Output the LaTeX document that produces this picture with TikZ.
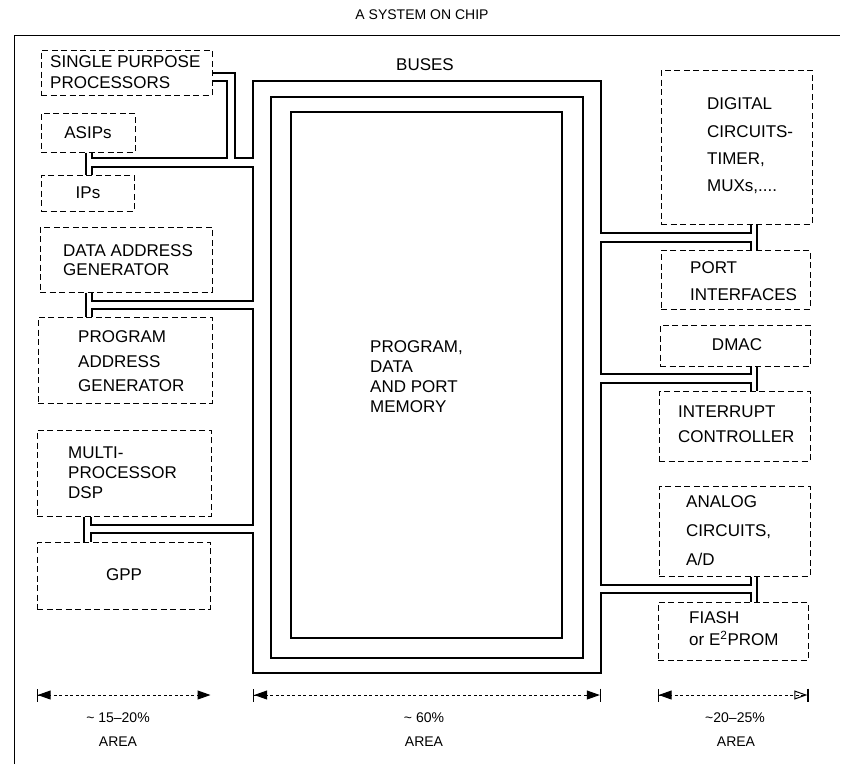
\documentclass[tikz,border=0pt]{standalone}
\usepackage{fontspec}
\setmainfont{Liberation Sans}
\usetikzlibrary{arrows.meta}
\begin{document}
\begin{tikzpicture}[x=1pt,y=-1pt,
  blk/.style={draw, dash pattern=on 6pt off 3.5pt, line width=1pt, rectangle, inner sep=0pt},
  bus/.style={line width=1.3pt, line join=miter},
  lbl/.style={font=\fontsize{17}{#1}\selectfont, align=left, anchor=west, inner sep=0pt},
  lbl/.default=20,
  ctr/.style={font=\fontsize{17}{20}\selectfont, inner sep=0pt},
  pct/.style={font=\fontsize{14}{17}\selectfont, inner sep=0pt},
  dimline/.style={line width=1pt, dash pattern=on 3pt off 2.5pt},
  tipL/.style={{Bar[width=13pt,line width=1.2pt]Triangle[length=13pt,width=9pt]}-{Triangle[length=13pt,width=9pt]}},
  tipM/.style={{Bar[width=13pt,line width=1.2pt]Triangle[length=13pt,width=9pt]}-{Triangle[length=13pt,width=9pt]Bar[width=13pt,line width=1.2pt]}},
  tipR/.style={{Bar[width=13pt,line width=1.2pt]Triangle[length=13pt,width=9pt]}-{Triangle[open,length=13pt,width=9pt,line width=1pt]Bar[width=13pt,line width=1.2pt]}},
]
\useasboundingbox (0,0) rectangle (845,764);

% title and frame
\node[font=\fontsize{14}{17}\selectfont] (title) at (422,15) {A SYSTEM ON CHIP};
\draw[line width=1pt] (14,764) -- (14,35) -- (840,35);

% left blocks
\node[blk, minimum width=171, minimum height=45] (spp) at (126.5,72.5) {};
\node[blk, minimum width=94, minimum height=39] (asip) at (88,132.5) {};
\node[blk, minimum width=93, minimum height=36] (ip) at (87.5,193) {};
\node[blk, minimum width=172, minimum height=65] (dag) at (126,259.5) {};
\node[blk, minimum width=174, minimum height=86] (pag) at (125,360) {};
\node[blk, minimum width=174, minimum height=86] (mp) at (124,473) {};
\node[blk, minimum width=173, minimum height=67] (gpp) at (123.5,575.5) {};

% right blocks
\node[blk, minimum width=151, minimum height=154] (dig) at (736.5,147) {};
\node[blk, minimum width=149, minimum height=59] (port) at (735.5,279.5) {};
\node[blk, minimum width=150, minimum height=41] (dm) at (735,345.5) {};
\node[blk, minimum width=151, minimum height=70] (int) at (734.5,426) {};
\node[blk, minimum width=151, minimum height=90] (an) at (734.5,531) {};
\node[blk, minimum width=150, minimum height=58] (fl) at (733,631) {};

% memory
\node[draw, line width=1.3pt, minimum width=271, minimum height=526, inner sep=0pt] (mem) at (426.5,375) {};

% texts
\node[lbl=21] (sppt) at (50,72.5) {SINGLE PURPOSE\\PROCESSORS};
\node[ctr] (asipt) at (88,133) {ASIPs};
\node[ctr] (ipt) at (88,193) {IPs};
\node[lbl=19] (dagt) at (63,260.5) {DATA ADDRESS\\GENERATOR};
\node[lbl=24.5] (pagt) at (78,361.5) {PROGRAM\\ADDRESS\\GENERATOR};
\node[lbl=20] (mpt) at (68,473) {MULTI-\\PROCESSOR\\DSP};
\node[ctr] (gppt) at (124,575) {GPP};
\node[lbl=20] (memt) at (370,377) {PROGRAM,\\DATA\\AND PORT\\MEMORY};
\node[ctr] (buses) at (425,65) {BUSES};
\node[lbl=27.3] (digt) at (707,146) {DIGITAL\\CIRCUITS-\\TIMER,\\MUXs,....};
\node[lbl=27] (portt) at (690,281.5) {PORT\\INTERFACES};
\node[ctr] (dmt) at (737,345) {DMAC};
\node[lbl=25] (intt) at (678,424.5) {INTERRUPT\\CONTROLLER};
\node[lbl=29] (ant) at (686,531) {ANALOG\\CIRCUITS,\\A/D};
\node[lbl=22] (flt) at (689,629) {FIASH\\or E\textsuperscript{2}PROM};

% buses
\coordinate (bNW) at (253,81);
\coordinate (bSE) at (601,673);
\draw[bus] (271,97) rectangle (583,658);
\draw[bus] (spp.east |- 0,73) -| (235,158) -| (bNW) -| (601,233) -| (dig.south -| 751,0);
\draw[bus] (spp.east |- 0,81) -| (227,158) -| (asip.south -| 92,0);
\draw[bus] (asip.south -| 86,0) -- (ip.north -| 86,0);
\draw[bus] (ip.north -| 92,0) |- (253,167) -- (253,301) -| (dag.south -| 92,0);
\draw[bus] (dag.south -| 86,0) -- (pag.north -| 86,0);
\draw[bus] (pag.north -| 92,0) |- (253,309) -- (253,525) -| (mp.south -| 91,0);
\draw[bus] (mp.south -| 84,0) -- (gpp.north -| 84,0);
\draw[bus] (gpp.north -| 91,0) |- (253,533) |- (bSE) -- (601,593) -| (fl.north -| 751,0);
\draw[bus] (an.south -| 751,0) |- (601,585) -- (601,383) -| (int.north -| 751,0);
\draw[bus] (dm.south -| 751,0) |- (601,374) -- (601,242) -| (port.north -| 751,0);
\draw[bus] (dig.south -| 757,0) -- (port.north -| 757,0);
\draw[bus] (dm.south -| 757,0) -- (int.north -| 757,0);
\draw[bus] (an.south -| 757,0) -- (fl.north -| 757,0);

% area dimensions
\draw[dimline, tipL] (gpp.west |- 0,695) -- (gpp.east |- 0,695);
\draw[dimline, tipM] (bNW |- 0,695) -- (bSE |- 0,695);
\draw[dimline, tipR] (fl.west |- 0,695) -- (fl.east |- 0,695);
\node[pct] (p1) at (118,718) {\textasciitilde\ 15\textendash20\%};
\node[pct] (a1) at (118,742) {AREA};
\node[pct] (p2) at (424,718) {\textasciitilde\ 60\%};
\node[pct] (a2) at (424,742) {AREA};
\node[pct] (p3) at (735,718) {\textasciitilde20\textendash25\%};
\node[pct] (a3) at (736,742) {AREA};
\end{tikzpicture}
\end{document}
